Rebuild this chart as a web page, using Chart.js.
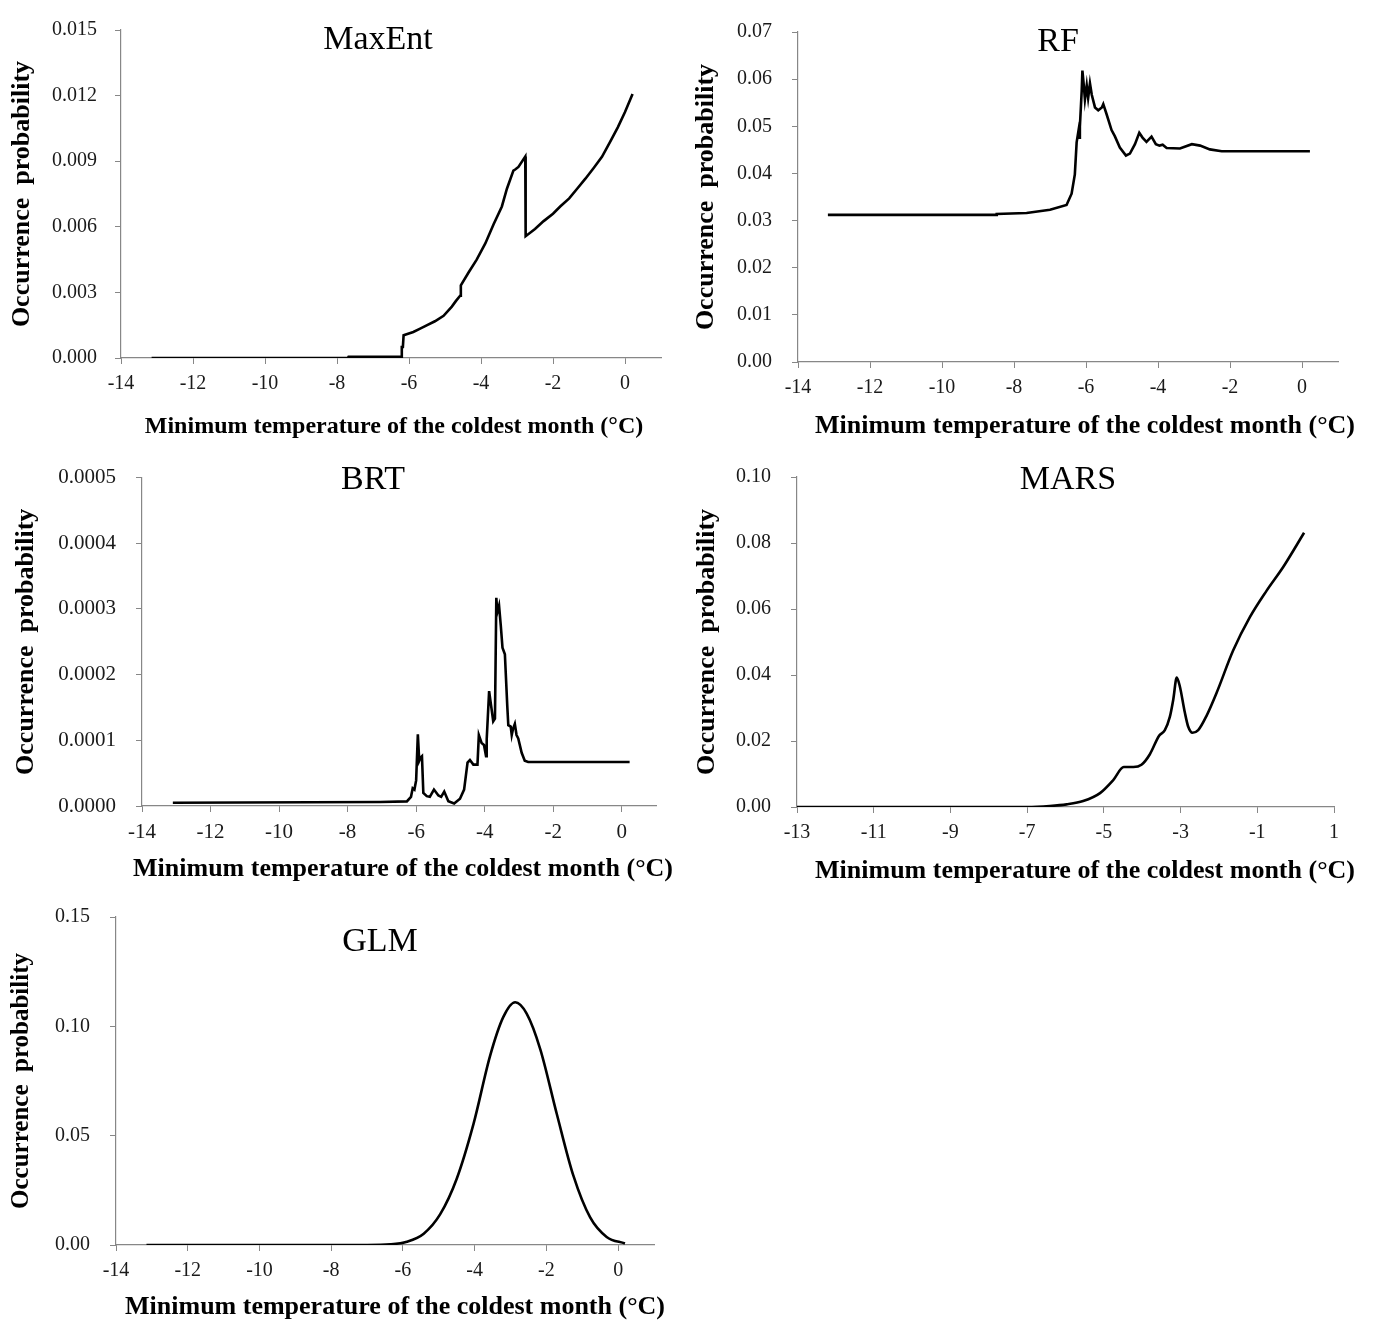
<!DOCTYPE html>
<html><head><meta charset="utf-8">
<script src="https://cdn.jsdelivr.net/npm/chart.js@4.4.1/dist/chart.umd.min.js"></script>
<style>
html,body{margin:0;padding:0;background:#fff;}
body{width:1374px;height:1321px;position:relative;overflow:hidden;}
canvas{position:absolute;display:block;}
</style></head><body>
<canvas id="cMaxEnt" width="686" height="445" style="left:0;top:0;width:686px;height:445px"></canvas>
<canvas id="cRF" width="688" height="445" style="left:686px;top:0;width:688px;height:445px"></canvas>
<canvas id="cBRT" width="686" height="440" style="left:0;top:445px;width:686px;height:440px"></canvas>
<canvas id="cMARS" width="688" height="440" style="left:686px;top:445px;width:688px;height:440px"></canvas>
<canvas id="cGLM" width="686" height="436" style="left:0;top:885px;width:686px;height:436px"></canvas>
<script>
// ---- data ----
const xTitleText = 'Minimum temperature of the coldest month (°C)';
const yTitleText = 'Occurrence  probability';

const xTicksStd = [-14, -12, -10, -8, -6, -4, -2, 0];
const xTicksMars = [-13, -11, -9, -7, -5, -3, -1, 1];

const maxentYTicks = [0, 0.003, 0.006, 0.009, 0.012, 0.015];
const rfYTicks = [0, 0.01, 0.02, 0.03, 0.04, 0.05, 0.06, 0.07];
const brtYTicks = [0, 0.0001, 0.0002, 0.0003, 0.0004, 0.0005];
const marsYTicks = [0, 0.02, 0.04, 0.06, 0.08, 0.10];
const glmYTicks = [0, 0.05, 0.10, 0.15];

const maxentTemp = [-13.15, -7.7, -7.68, -6.22, -6.2, -6.17, -6.15, -5.88, -5.69, -5.51, -5.28, -5.04, -4.81, -4.7, -4.58, -4.56, -4.35, -4.12, -3.88, -3.65, -3.42, -3.28, -3.10, -3.05, -2.96, -2.77, -2.76, -2.5, -2.26, -2.0, -1.80, -1.55, -1.33, -1.1, -0.87, -0.64, -0.41, -0.2, 0.0, 0.21];
const maxentProb = [0, 0, 0.00005, 0.00006, 0.0005, 0.0005, 0.00104, 0.00119, 0.00134, 0.00149, 0.00168, 0.00193, 0.00235, 0.0026, 0.00285, 0.00332, 0.0039, 0.0045, 0.00524, 0.00612, 0.00693, 0.00774, 0.00857, 0.00862, 0.00874, 0.00921, 0.00557, 0.0059, 0.00626, 0.0066, 0.00693, 0.0073, 0.00774, 0.0082, 0.00869, 0.0092, 0.0099, 0.01055, 0.01125, 0.01207];

const rfTemp = [-13.17, -8.5, -8.48, -7.65, -7.0, -6.54, -6.40, -6.31, -6.26, -6.21, -6.19, -6.17, -6.12, -6.10, -6.07, -6.03, -5.98, -5.94, -5.89, -5.84, -5.75, -5.66, -5.56, -5.52, -5.43, -5.29, -5.20, -5.06, -4.89, -4.78, -4.64, -4.52, -4.43, -4.32, -4.18, -4.06, -3.96, -3.87, -3.76, -3.39, -3.06, -2.83, -2.56, -2.23, 0.22];
const rfProb = [0.0312, 0.0312, 0.0314, 0.0316, 0.0323, 0.0333, 0.0357, 0.0398, 0.0466, 0.049, 0.0476, 0.0499, 0.0574, 0.0618, 0.0594, 0.0557, 0.0587, 0.0560, 0.0591, 0.0567, 0.054, 0.0534, 0.054, 0.0547, 0.0526, 0.0492, 0.0479, 0.0455, 0.0438, 0.0442, 0.0462, 0.0486, 0.0476, 0.0467, 0.0478, 0.0462, 0.0459, 0.0461, 0.0454, 0.0453, 0.0462, 0.0459, 0.0451, 0.0447, 0.0447];

const brtTemp = [-13.1, -7.05, -6.27, -6.15, -6.1, -6.05, -6.0, -5.95, -5.91, -5.87, -5.83, -5.79, -5.69, -5.6, -5.48, -5.35, -5.27, -5.18, -5.06, -4.89, -4.72, -4.6, -4.5, -4.43, -4.33, -4.21, -4.17, -4.09, -4.02, -3.96, -3.94, -3.87, -3.81, -3.75, -3.70, -3.66, -3.63, -3.58, -3.53, -3.48, -3.41, -3.34, -3.31, -3.24, -3.21, -3.17, -3.12, -3.07, -3.02, -2.92, -2.83, -2.73, 0.23];
const brtProb = [0.000005, 0.000006, 0.000007, 0.000014, 0.000027, 0.000025, 0.000039, 0.000109, 0.000069, 0.000074, 0.000076, 0.00002, 0.000015, 0.000014, 0.000025, 0.000016, 0.000014, 0.000022, 0.0000074, 0.0000039, 0.000011, 0.000025, 0.000066, 0.00007, 0.000063, 0.000063, 0.000108, 0.000096, 0.000093, 0.000076, 0.000102, 0.000175, 0.000152, 0.000129, 0.000133, 0.000317, 0.000295, 0.000305, 0.000275, 0.000241, 0.000231, 0.000152, 0.000123, 0.000121, 0.000108, 0.000118, 0.000125, 0.000108, 0.000103, 0.000081, 0.000069, 0.000067, 0.000067];

const marsTemp = [-13, -7, -6.41, -5.97, -5.54, -5.10, -4.76, -4.48, -4.23, -4.02, -3.80, -3.56, -3.41, -3.28, -3.19, -3.10, -3.02, -2.89, -2.80, -2.69, -2.54, -2.32, -2.06, -1.63, -1.19, -0.76, -0.32, 0.22];
const marsProb = [0, 0, 0.0003, 0.0008, 0.0018, 0.0042, 0.0081, 0.0121, 0.0121, 0.0128, 0.016, 0.0216, 0.0233, 0.0273, 0.0326, 0.0392, 0.0366, 0.0287, 0.0243, 0.0225, 0.0233, 0.0277, 0.0346, 0.0474, 0.0576, 0.0655, 0.0728, 0.0831];

const glmTemp = [-13.15, -7.0, -6.35, -5.89, -5.42, -4.96, -4.50, -4.03, -3.57, -3.20, -2.87, -2.55, -2.17, -1.71, -1.25, -0.78, -0.32, 0.19];
const glmProb = [0, 0, 0.0003, 0.0015, 0.0052, 0.0141, 0.0303, 0.0555, 0.0865, 0.1043, 0.111, 0.1058, 0.0895, 0.0599, 0.0318, 0.0126, 0.0037, 0.0007];

// ---- drawing ----
const FONT = '"Liberation Serif", "Times New Roman", serif';
const AXIS = '#878787';

const textPlugin = {
  id: 'panelText',
  afterDraw(chart, args, opts) {
    const ctx = chart.ctx;
    (opts.items || []).forEach(it => {
      ctx.save();
      ctx.font = (it.weight || 'normal') + ' ' + it.size + 'px ' + FONT;
      ctx.fillStyle = it.color || '#000';
      ctx.textAlign = 'center';
      ctx.textBaseline = 'alphabetic';
      ctx.fillText(it.text, it.x, it.y + it.size * 0.33);
      ctx.restore();
    });
  }
};

function makePanel(id, temps, probs, cfg) {
  const pts = temps.map((t, i) => ({x: t, y: probs[i]}));
  return new Chart(document.getElementById(id), {
    type: 'line',
    data: {datasets: [{
      data: pts,
      borderColor: '#000',
      borderWidth: 2.6,
      pointRadius: 0,
      fill: false,
      tension: cfg.smooth ? 0.4 : 0,
      cubicInterpolationMode: cfg.smooth ? 'monotone' : 'default'
    }]},
    plugins: [textPlugin],
    options: {
      responsive: false,
      animation: false,
      events: [],
      layout: {padding: {top: cfg.padTop, right: cfg.padRight, left: 0, bottom: 0}},
      plugins: {
        legend: {display: false},
        tooltip: {enabled: false},
        panelText: {items: [
          {text: cfg.title, x: cfg.titleX, y: cfg.titleY, size: 34},
          {text: xTitleText, x: cfg.xtX, y: cfg.xtY, size: cfg.xtSize, weight: 'bold'}
        ]}
      },
      scales: {
        x: {
          type: 'linear',
          min: cfg.xMin, max: cfg.xMax,
          afterBuildTicks: s => { s.ticks = cfg.xTicks.map(v => ({value: v})); },
          afterFit: s => { s.height = cfg.xH; },
          grid: {display: true, drawOnChartArea: false, drawTicks: true, tickLength: 6, color: AXIS, lineWidth: 1},
          border: {display: true, color: AXIS, width: 1.2},
          ticks: {autoSkip: false, maxRotation: 0, padding: 8, color: '#1a1a1a',
                  font: {family: FONT, size: cfg.tickSize}, callback: v => String(v)}
        },
        y: {
          type: 'linear',
          min: 0, max: cfg.yMax,
          afterBuildTicks: s => { s.ticks = cfg.yTicks.map(v => ({value: v})); },
          afterFit: s => { s.width = cfg.yW; },
          grid: {display: true, drawOnChartArea: false, drawTicks: true, tickLength: 6, color: AXIS, lineWidth: 1},
          border: {display: true, color: AXIS, width: 1.2},
          ticks: {padding: cfg.yPad, color: '#1a1a1a', font: {family: FONT, size: cfg.tickSize},
                  callback: v => Number(v).toFixed(cfg.dec)},
          title: {display: true, text: yTitleText, color: '#000',
                  font: {family: FONT, size: cfg.ytSize, weight: 'bold'},
                  padding: {top: cfg.ytPad, bottom: 0}}
        }
      }
    }
  });
}

makePanel('cMaxEnt', maxentTemp, maxentProb, {
  title: 'MaxEnt', titleX: 378, titleY: 38,
  xtX: 394, xtY: 425, xtSize: 24, tickSize: 20,
  xMin: -14, xMax: 1, xTicks: xTicksStd, yMax: 0.015, yTicks: maxentYTicks, dec: 3,
  padTop: 18, padRight: 25, yW: 121, xH: 87, yPad: 18, ytSize: 26, ytPad: 7
});
makePanel('cRF', rfTemp, rfProb, {
  title: 'RF', titleX: 372, titleY: 40,
  xtX: 399, xtY: 424, xtSize: 26, tickSize: 20,
  xMin: -14, xMax: 1, xTicks: xTicksStd, yMax: 0.07, yTicks: rfYTicks, dec: 2,
  padTop: 18, padRight: 36, yW: 112, xH: 83, yPad: 20, ytSize: 26, ytPad: 5
});
makePanel('cBRT', brtTemp, brtProb, {
  title: 'BRT', titleX: 373, titleY: 33,
  xtX: 403, xtY: 422, xtSize: 26, tickSize: 21,
  xMin: -14, xMax: 1, xTicks: xTicksStd, yMax: 0.0005, yTicks: brtYTicks, dec: 4,
  padTop: 22, padRight: 30, yW: 142, xH: 79, yPad: 20, ytSize: 26, ytPad: 11
});
makePanel('cMARS', marsTemp, marsProb, {
  title: 'MARS', titleX: 382, titleY: 33, smooth: true,
  xtX: 399, xtY: 424, xtSize: 26, tickSize: 20,
  xMin: -13, xMax: 1, xTicks: xTicksMars, yMax: 0.10, yTicks: marsYTicks, dec: 2,
  padTop: 22, padRight: 40, yW: 111, xH: 78, yPad: 20, ytSize: 26, ytPad: 6
});
makePanel('cGLM', glmTemp, glmProb, {
  title: 'GLM', titleX: 380, titleY: 55, smooth: true,
  xtX: 395, xtY: 420, xtSize: 26, tickSize: 20,
  xMin: -14, xMax: 1, xTicks: xTicksStd, yMax: 0.15, yTicks: glmYTicks, dec: 2,
  padTop: 22, padRight: 32, yW: 116, xH: 76, yPad: 20, ytSize: 25, ytPad: 7
});
</script>
</body></html>
